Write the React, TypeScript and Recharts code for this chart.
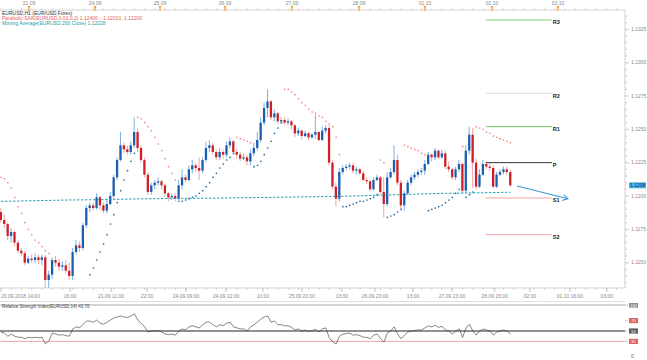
import React from 'react';
import { ComposedChart, Bar, Line, XAxis, YAxis, ReferenceLine } from 'recharts';

// ---------- data ----------
const opens = [
  1.1188,1.1182,1.1179,1.1170,1.1173,1.1165,1.1159,1.1157,1.1150,1.1153,
  1.1152,1.1154,1.1152,1.1154,1.1137,1.1141,1.1152,1.1150,1.1147,1.1148,
  1.1144,1.1140,1.1158,1.1163,1.1161,1.1178,1.1191,1.1193,1.1191,1.1199,
  1.1193,1.1189,1.1194,1.1200,1.1214,1.1227,1.1238,1.1235,1.1233,1.1238,
  1.1248,1.1236,1.1227,1.1216,1.1203,1.1208,1.1210,1.1211,1.1208,1.1202,
  1.1199,1.1200,1.1198,1.1208,1.1214,1.1212,1.1220,1.1223,1.1221,1.1219,
  1.1227,1.1236,1.1238,1.1233,1.1229,1.1233,1.1231,1.1238,1.1241,1.1233,
  1.1231,1.1228,1.1229,1.1226,1.1232,1.1236,1.1242,1.1255,1.1266,1.1271,
  1.1259,1.1262,1.1256,1.1257,1.1255,1.1256,1.1253,1.1247,1.1249,1.1245,
  1.1247,1.1244,1.1246,1.1248,1.1242,1.1249,1.1251,1.1225,1.1207,1.1198,
  1.1218,1.1221,1.1222,1.1223,1.1219,1.1220,1.1217,1.1212,1.1211,1.1205,
  1.1212,1.1214,1.1203,1.1194,1.1214,1.1218,1.1227,1.1210,1.1193,1.1202,
  1.1210,1.1214,1.1216,1.1218,1.1219,1.1224,1.1231,1.1229,1.1234,1.1229,
  1.1232,1.1222,1.1220,1.1214,1.1220,1.1224,1.1204,1.1234,1.1246,1.1225,
  1.1207,1.1216,1.1224,1.1222,1.1221,1.1207,1.1216,1.1218,1.1220,1.1218,
];
const closes = [
  1.1182,1.1179,1.1170,1.1173,1.1165,1.1159,1.1157,1.1150,1.1153,1.1152,
  1.1154,1.1152,1.1154,1.1137,1.1141,1.1152,1.1150,1.1147,1.1148,1.1144,
  1.1140,1.1158,1.1163,1.1161,1.1178,1.1191,1.1193,1.1191,1.1199,1.1193,
  1.1189,1.1194,1.1200,1.1214,1.1227,1.1238,1.1235,1.1233,1.1238,1.1248,
  1.1236,1.1227,1.1216,1.1203,1.1208,1.1210,1.1211,1.1208,1.1202,1.1199,
  1.1200,1.1198,1.1208,1.1214,1.1212,1.1220,1.1223,1.1221,1.1219,1.1227,
  1.1236,1.1238,1.1233,1.1229,1.1233,1.1231,1.1238,1.1241,1.1233,1.1231,
  1.1228,1.1229,1.1226,1.1232,1.1236,1.1242,1.1255,1.1266,1.1271,1.1259,
  1.1262,1.1256,1.1257,1.1255,1.1256,1.1253,1.1247,1.1249,1.1245,1.1247,
  1.1244,1.1246,1.1248,1.1242,1.1249,1.1251,1.1225,1.1207,1.1198,1.1218,
  1.1221,1.1222,1.1223,1.1219,1.1220,1.1217,1.1212,1.1211,1.1205,1.1212,
  1.1214,1.1203,1.1194,1.1214,1.1218,1.1227,1.1210,1.1193,1.1202,1.1210,
  1.1214,1.1216,1.1218,1.1219,1.1224,1.1231,1.1229,1.1234,1.1229,1.1232,
  1.1222,1.1220,1.1214,1.1220,1.1224,1.1204,1.1234,1.1246,1.1225,1.1207,
  1.1216,1.1224,1.1222,1.1221,1.1207,1.1216,1.1218,1.1220,1.1218,1.1208,
];
const highs = [
  1.1191,1.1186,1.1180,1.1176,1.1174,1.1167,1.1161,1.1159,1.1155,1.1156,
  1.1157,1.1156,1.1156,1.1156,1.1144,1.1154,1.1155,1.1153,1.1151,1.1152,
  1.1150,1.1161,1.1167,1.1166,1.1180,1.1193,1.1195,1.1195,1.1202,1.1200,
  1.1195,1.1197,1.1203,1.1216,1.1229,1.1248,1.1240,1.1238,1.1241,1.1259,
  1.1251,1.1238,1.1229,1.1218,1.1210,1.1212,1.1214,1.1212,1.1209,1.1203,
  1.1202,1.1202,1.1212,1.1220,1.1216,1.1223,1.1227,1.1225,1.1229,1.1229,
  1.1241,1.1242,1.1240,1.1235,1.1236,1.1235,1.1241,1.1244,1.1242,1.1235,
  1.1233,1.1232,1.1231,1.1235,1.1240,1.1248,1.1259,1.1270,1.1280,1.1272,
  1.1265,1.1263,1.1259,1.1259,1.1258,1.1257,1.1254,1.1251,1.1250,1.1249,
  1.1248,1.1247,1.1261,1.1249,1.1252,1.1253,1.1253,1.1227,1.1210,1.1221,
  1.1223,1.1224,1.1225,1.1225,1.1222,1.1221,1.1219,1.1214,1.1212,1.1214,
  1.1216,1.1215,1.1214,1.1218,1.1221,1.1238,1.1231,1.1212,1.1204,1.1212,
  1.1216,1.1218,1.1220,1.1221,1.1227,1.1233,1.1232,1.1236,1.1235,1.1235,
  1.1234,1.1226,1.1221,1.1222,1.1227,1.1225,1.1238,1.1252,1.1251,1.1228,
  1.1220,1.1227,1.1226,1.1225,1.1223,1.1218,1.1220,1.1222,1.1222,1.1220,
];
const lows = [
  1.1180,1.1176,1.1167,1.1165,1.1162,1.1157,1.1155,1.1148,1.1149,1.1150,
  1.1150,1.1149,1.1148,1.1131,1.1129,1.1138,1.1147,1.1144,1.1144,1.1142,
  1.1137,1.1137,1.1156,1.1158,1.1159,1.1176,1.1188,1.1189,1.1190,1.1190,
  1.1187,1.1187,1.1193,1.1198,1.1212,1.1226,1.1232,1.1231,1.1231,1.1236,
  1.1233,1.1225,1.1214,1.1201,1.1201,1.1205,1.1208,1.1205,1.1199,1.1196,
  1.1197,1.1196,1.1197,1.1205,1.1210,1.1211,1.1217,1.1218,1.1212,1.1217,
  1.1225,1.1233,1.1231,1.1227,1.1227,1.1228,1.1229,1.1236,1.1231,1.1228,
  1.1226,1.1227,1.1223,1.1223,1.1230,1.1234,1.1240,1.1253,1.1259,1.1257,
  1.1256,1.1254,1.1254,1.1253,1.1253,1.1250,1.1244,1.1245,1.1242,1.1244,
  1.1242,1.1243,1.1243,1.1241,1.1241,1.1247,1.1223,1.1205,1.1192,1.1196,
  1.1216,1.1219,1.1220,1.1217,1.1216,1.1216,1.1211,1.1209,1.1204,1.1204,
  1.1211,1.1201,1.1184,1.1192,1.1213,1.1216,1.1208,1.1190,1.1189,1.1201,
  1.1208,1.1212,1.1214,1.1216,1.1216,1.1223,1.1226,1.1227,1.1228,1.1228,
  1.1220,1.1218,1.1212,1.1212,1.1218,1.1202,1.1202,1.1231,1.1206,1.1205,
  1.1206,1.1215,1.1220,1.1219,1.1206,1.1206,1.1215,1.1216,1.1216,1.1207,
];

// Parabolic SAR runs: start index, side, values
const sarSegments = [
  { start: 0, side: 'red', values: [1.1214,1.1213,1.1210,1.1206,1.1199,1.1192,1.1187,1.1180,1.1175,1.1171,1.1167,1.1165,1.1162,1.1159,1.1157] },
  { start: 26, side: 'blue', values: [1.1141,1.1146,1.1152,1.1158,1.1164,1.1171,1.1179,1.1186,1.1195,1.1204,1.1212,1.1219,1.1226,1.1232] },
  { start: 40, side: 'red', values: [1.1259,1.1258,1.1255,1.1252,1.1249,1.1244,1.1239,1.1234,1.1228,1.1222,1.1217,1.1212] },
  { start: 52, side: 'blue', values: [1.1196,1.1196,1.1197,1.1198,1.1199,1.1200,1.1202,1.1204,1.1207,1.1210,1.1214,1.1217,1.1221,1.1224,1.1227,1.1229,1.1232] },
  { start: 69, side: 'red', values: [1.1244,1.1243,1.1242,1.1241,1.1240] },
  { start: 74, side: 'blue', values: [1.1222,1.1223,1.1226,1.1231,1.1236,1.1241,1.1247,1.1251,1.1255] },
  { start: 83, side: 'red', values: [1.1280,1.1280,1.1278,1.1276,1.1273,1.1270,1.1268,1.1265,1.1263,1.1262,1.1260,1.1259,1.1256,1.1254,1.1252,1.1244,1.1231] },
  { start: 100, side: 'blue', values: [1.1192,1.1192,1.1193,1.1194,1.1195,1.1196,1.1196,1.1197,1.1198,1.1199,1.1201] },
  { start: 111, side: 'red', values: [1.1227,1.1225] },
  { start: 113, side: 'blue', values: [1.1184,1.1185,1.1186,1.1188,1.1190] },
  { start: 118, side: 'red', values: [1.1238,1.1237,1.1236,1.1235,1.1234,1.1232,1.1231] },
  { start: 125, side: 'blue', values: [1.1189,1.1190,1.1191,1.1192,1.1193,1.1195,1.1197,1.1199,1.1202,1.1205] },
  { start: 135, side: 'red', values: [1.1237] },
  { start: 136, side: 'blue', values: [1.1199,1.1201,1.1203] },
  { start: 139, side: 'red', values: [1.1252,1.1251,1.1250,1.1248,1.1247,1.1245,1.1244,1.1243,1.1242,1.1241,1.1240] },
];

// Moving average readings (index, value)
const maPoints = [
  { i: 0, v: 1.11960 }, { i: 10, v: 1.11965 }, { i: 20, v: 1.11970 }, { i: 30, v: 1.11973 },
  { i: 40, v: 1.11978 }, { i: 50, v: 1.11982 }, { i: 60, v: 1.11983 }, { i: 70, v: 1.11987 },
  { i: 80, v: 1.11990 }, { i: 90, v: 1.11994 }, { i: 100, v: 1.11998 }, { i: 110, v: 1.12005 },
  { i: 120, v: 1.12013 }, { i: 130, v: 1.12020 }, { i: 140, v: 1.12024 }, { i: 149, v: 1.12028 },
];

const rsiValues = [
  48,46,40,44,40,38,38,35,38,37, 38,37,38,25,31,46,44,42,43,41,
  40,54,58,56,63,69,69,67,71,65, 63,67,71,75,77,79,77,76,79,83,
  71,65,58,48,50,50,51,48,44,43, 44,42,50,54,52,58,60,58,56,62,
  67,67,62,58,62,60,65,67,58,56, 54,54,50,58,62,67,73,77,79,67,
  69,62,62,60,60,57,52,54,50,52, 49,51,53,48,54,56,37,29,25,40,
  44,45,46,42,43,41,38,38,35,42, 44,35,29,46,50,58,44,35,42,48,
  50,51,52,52,56,60,58,61,57,59, 52,50,44,50,54,38,56,63,50,42,
  50,54,52,50,42,48,50,52,50,44,
];

const pivots = [
  { name: 'R3', value: 1.1332, color: '#7fd07a' },
  { name: 'R2', value: 1.1277, color: '#dcdcdc' },
  { name: 'R1', value: 1.1252, color: '#6cc865' },
  { name: 'P', value: 1.1225, color: '#333333' },
  { name: 'S1', value: 1.11985, color: '#f0a3a3' },
  { name: 'S2', value: 1.1171, color: '#f0a3a3' },
];
const pivotSpan = [141.8, 161.1];
const arrowFrom = { i: 150.9, v: 1.12075 };
const arrowTo = { i: 165.8, v: 1.1198 };

const priceTicks = [1.115, 1.1175, 1.12, 1.1225, 1.125, 1.1275, 1.13, 1.1325];
const topTickPos = [8.2, 27.5, 46.5, 65.5, 85.1, 104.7, 124, 143.6, 162.9];
const topLabels = ['21.09', '24.09', '25.09', '26.09', '27.09', '28.09', '01.10', '02.10', '03.10'];
const bottomTickPos = [0, 20.2, 32.2, 42.7, 54.1, 65.8, 76.6, 88, 99.7, 109.4, 120.5, 131.9, 144.4, 154.7, 166.4, 177.2];
const bottomLabels = [
  '20.09.2018 14:00', '16:00', '21.09 11:00', '22:00', '24.09 09:00', '24.09 22:00', '10:00', '25.09 23:00',
  '13:00', '26.09 23:00', '13:00', '27.09 23:00', '28.09 15:00', '02:00', '01.10 16:00', '03:00',
];
const rsiLevels = [
  { v: 100, label: '100', fill: '#8c8c8c' },
  { v: 70, label: '70', fill: '#e06464' },
  { v: 50, label: '50', fill: '#5e5e5e' },
  { v: 30, label: '30', fill: '#e06464' },
  { v: 0, label: '0', fill: 'none' },
];

// ---------- layout constants ----------
const X_DOMAIN: [number, number] = [-0.3, 182.5];
const Y_DOMAIN: [number, number] = [1.1131, 1.13395];
const PLOT_RIGHT = 625;
const PLOT_TOP = 10;
const PLOT_BOTTOM = 288;
const FONT = 'Liberation Sans, Arial, sans-serif';

const UP = '#1d5faf';
const UP_WICK = '#6fa6dc';
const DN = '#cf1f28';
const DN_WICK = '#ee9a9a';

// ---------- derived rows ----------
const sarRed: (number | null)[] = opens.map(() => null);
const sarBlue: (number | null)[] = opens.map(() => null);
sarSegments.forEach((s) => s.values.forEach((v, k) => {
  (s.side === 'red' ? sarRed : sarBlue)[s.start + k] = v;
}));
const maMap = new Map(maPoints.map((p) => [p.i, p.v]));
const data = opens.map((o, i) => ({
  i, o, c: closes[i], h: highs[i], l: lows[i],
  range: [lows[i], highs[i]],
  sarR: sarRed[i], sarB: sarBlue[i],
  ma: maMap.has(i) ? maMap.get(i) : null,
}));
const rsiData = rsiValues.map((v, i) => ({ i, rsi: v }));

const minorPrice = Array.from({ length: 41 }, (_, k) => +(1.1135 + k * 0.0005).toFixed(4));
const minorX = Array.from({ length: 61 }, (_, k) => k * 3);
const bottomTicks = [...new Set([...minorX, ...bottomTickPos])].sort((a, b) => a - b);
const topTicks = [...new Set([...minorX, ...topTickPos])].sort((a, b) => a - b);

const near = (arr: number[], v: number) => arr.findIndex((t) => Math.abs(t - v) < 1e-6);

// ---------- renderers ----------
const Candle = (props: any) => {
  const { x, y, width, height, payload } = props;
  if (!payload || x == null || y == null) return <g />;
  const top = Math.min(y, y + height);
  const hh = Math.abs(height);
  const { o, c, h, l } = payload;
  const k = h - l > 0 ? hh / (h - l) : 0;
  const cx = x + width / 2;
  const bTop = top + (h - Math.max(o, c)) * k;
  const bBot = top + (h - Math.min(o, c)) * k;
  const up = c >= o;
  const bw = 2.3;
  return (
    <g>
      <line x1={cx} x2={cx} y1={top} y2={top + hh} stroke={up ? UP_WICK : DN_WICK} strokeWidth={0.9} />
      <rect x={cx - bw / 2} y={bTop} width={bw} height={Math.max(0.8, bBot - bTop)} fill={up ? UP : DN} />
    </g>
  );
};

const PriceTick = (props: any) => {
  const { y, payload } = props;
  const v = payload.value;
  const major = near(priceTicks, v) >= 0;
  return (
    <g>
      <line x1={PLOT_RIGHT} x2={PLOT_RIGHT + (major ? 4 : 2)} y1={y} y2={y} stroke="#aaa" strokeWidth={0.6} />
      {major && (
        <text x={PLOT_RIGHT + 6} y={y + 1.8} fontSize={5} fill="#8a8a8a" fontFamily={FONT}>{v.toFixed(4)}</text>
      )}
    </g>
  );
};

const BottomTick = (props: any) => {
  const { x, payload } = props;
  const idx = near(bottomTickPos, payload.value);
  if (idx < 0) {
    return <line x1={x} x2={x} y1={PLOT_BOTTOM} y2={PLOT_BOTTOM + 2} stroke="#bbb" strokeWidth={0.6} />;
  }
  return (
    <g>
      <line x1={x} x2={x} y1={PLOT_BOTTOM} y2={PLOT_BOTTOM + 4} stroke="#999" strokeWidth={0.6} />
      <text x={idx === 0 ? 1 : x} y={PLOT_BOTTOM + 10} textAnchor={idx === 0 ? 'start' : 'middle'} fontSize={5} fill="#888" fontFamily={FONT}>
        {bottomLabels[idx]}
      </text>
    </g>
  );
};

const TopTick = (props: any) => {
  const { x, payload } = props;
  const idx = near(topTickPos, payload.value);
  if (idx < 0) {
    return <line x1={x} x2={x} y1={PLOT_TOP} y2={PLOT_TOP - 2} stroke="#c4c4c4" strokeWidth={0.6} />;
  }
  return (
    <g>
      <text x={x} y={4.8} textAnchor="middle" fontSize={5} fill="#888" fontFamily={FONT}>{topLabels[idx]}</text>
      <line x1={x} x2={x} y1={6} y2={11} stroke="#eaa23a" strokeWidth={1.2} />
      <path d={`M${x - 1.6},6 L${x + 1.6},6 L${x},8.2 Z`} fill="#eaa23a" />
    </g>
  );
};

const pivotShape = (p: { name: string; color: string }) => (sp: any) => (
  <g>
    <line x1={sp.x1} y1={sp.y1} x2={sp.x2} y2={sp.y2} stroke={p.color} strokeWidth={1} />
    <text x={sp.x2 + 1} y={sp.y2 + 4.3} fontSize={5.5} fontWeight="bold" fill="#222" fontFamily={FONT}>{p.name}</text>
  </g>
);

const arrowShape = (sp: any) => {
  const dx = sp.x2 - sp.x1;
  const dy = sp.y2 - sp.y1;
  const len = Math.sqrt(dx * dx + dy * dy) || 1;
  const ux = dx / len;
  const uy = dy / len;
  const hl = 5;
  const hw = 3;
  const bx = sp.x2 - ux * hl;
  const by = sp.y2 - uy * hl;
  return (
    <g>
      <line x1={sp.x1} y1={sp.y1} x2={sp.x2} y2={sp.y2} stroke="#3a9ad6" strokeWidth={1.1} />
      <polyline
        points={`${bx - uy * hw},${by + ux * hw} ${sp.x2},${sp.y2} ${bx + uy * hw},${by - ux * hw}`}
        fill="none" stroke="#3a9ad6" strokeWidth={1.1}
      />
    </g>
  );
};

const Badge = (props: any) => {
  const vb = props.viewBox || {};
  const y = vb.y;
  if (y == null) return null;
  const x = PLOT_RIGHT + 4;
  return (
    <g>
      <rect x={x} y={y - 3} width={17} height={6} fill="#4cb3ea" />
      <text x={x + 1} y={y + 1.9} fontSize={5} fill="#0b2a55" fontFamily={FONT}>{closes[closes.length - 1].toFixed(4)}</text>
    </g>
  );
};

const RsiTick = (props: any) => {
  const { y, payload } = props;
  const lv = rsiLevels.find((r) => r.v === payload.value);
  if (!lv) return <g />;
  const x = PLOT_RIGHT + 4;
  if (lv.fill === 'none') {
    return <text x={x + 2} y={y + 1.5} fontSize={5} fill="#666" fontFamily={FONT}>{lv.label}</text>;
  }
  return (
    <g>
      <line x1={PLOT_RIGHT} x2={PLOT_RIGHT + 3} y1={y} y2={y} stroke="#aaa" strokeWidth={0.6} />
      <rect x={x} y={y - 2.6} width={9} height={5.2} fill={lv.fill} />
      <text x={x + 4.5} y={y + 1.6} fontSize={4} textAnchor="middle" fill="#fff" fontFamily={FONT}>{lv.label}</text>
    </g>
  );
};

export default function App() {
  return (
    <div style={{ position: 'relative', width: 647, height: 360, background: '#fff', overflow: 'hidden', fontFamily: FONT }}>
      <style>{'body{margin:0;background:#fff}'}</style>
      <div style={{ position: 'absolute', left: 0, top: 0 }}>
        <ComposedChart width={647} height={300} data={data} margin={{ top: 0, right: 0, bottom: 0, left: 0 }}>
          <XAxis
            dataKey="i" type="number" domain={X_DOMAIN} allowDataOverflow height={12}
            ticks={bottomTicks} interval={0} tick={<BottomTick />} tickLine={false}
            axisLine={{ stroke: '#c8c8c8', strokeWidth: 0.8 }}
          />
          <XAxis
            xAxisId="top" orientation="top" dataKey="i" type="number" domain={X_DOMAIN} allowDataOverflow height={10}
            ticks={topTicks} interval={0} tick={<TopTick />} tickLine={false}
            axisLine={{ stroke: '#c8c8c8', strokeWidth: 0.8 }}
          />
          <YAxis
            orientation="right" width={22} type="number" domain={Y_DOMAIN} allowDataOverflow
            ticks={minorPrice} interval={0} tick={<PriceTick />} tickLine={false}
            axisLine={{ stroke: '#c8c8c8', strokeWidth: 0.8 }}
          />
          <Line xAxisId="top" dataKey="ma" stroke="none" dot={false} isAnimationActive={false} legendType="none" />
          <Line dataKey="ma" stroke="#1fa8b8" strokeWidth={1} strokeDasharray="2.5 1.5" dot={false} connectNulls isAnimationActive={false} activeDot={false} />
          <Bar dataKey="range" shape={Candle} barSize={3} isAnimationActive={false} />
          <Line dataKey="sarR" stroke="none" dot={{ r: 0.85, fill: '#f28a8a', stroke: 'none' }} activeDot={false} isAnimationActive={false} />
          <Line dataKey="sarB" stroke="none" dot={{ r: 0.85, fill: '#2470aa', stroke: 'none' }} activeDot={false} isAnimationActive={false} />
          {pivots.map((p) => (
            <ReferenceLine
              key={p.name}
              segment={[{ x: pivotSpan[0], y: p.value }, { x: pivotSpan[1], y: p.value }]}
              ifOverflow="visible"
              shape={pivotShape(p)}
            />
          ))}
          <ReferenceLine
            segment={[{ x: arrowFrom.i, y: arrowFrom.v }, { x: arrowTo.i, y: arrowTo.v }]}
            ifOverflow="visible"
            shape={arrowShape}
          />
          <ReferenceLine y={closes[closes.length - 1]} stroke="none" ifOverflow="visible" label={<Badge />} />
        </ComposedChart>
      </div>
      <div style={{ position: 'absolute', left: 0, top: 303 }}>
        <ComposedChart width={647} height={57} data={rsiData} margin={{ top: 0, right: 0, bottom: 0, left: 0 }}>
          <XAxis dataKey="i" type="number" domain={X_DOMAIN} allowDataOverflow hide />
          <YAxis
            orientation="right" width={22} type="number" domain={[-5.77, 103.85]} allowDataOverflow
            ticks={[0, 30, 50, 70, 100]} interval={0} tick={<RsiTick />} tickLine={false} axisLine={false}
          />
          <ReferenceLine y={100} stroke="#a8a8a8" strokeWidth={1} />
          <ReferenceLine y={50} stroke="#222" strokeWidth={1} />
          <ReferenceLine y={30} stroke="#f2a5a5" strokeWidth={1} />
          <Line dataKey="rsi" stroke="#333" strokeWidth={0.6} dot={false} activeDot={false} isAnimationActive={false} />
        </ComposedChart>
      </div>
      <svg width={647} height={360} style={{ position: 'absolute', left: 0, top: 0, pointerEvents: 'none' }}>
        <text x={2} y={15} fontSize={5} fill="#333" fontFamily={FONT}>EURUSD,H1 (EUR/USD,Forex)</text>
        <text x={2} y={20} fontSize={5} fill="#e46060" fontFamily={FONT}>Parabolic SAR(EURUSD,0.02,0.2) 1.12400 ↓ 1.12010, 1.12200</text>
        <text x={2} y={25} fontSize={5} fill="#1a9fa6" fontFamily={FONT}>Moving Average(EURUSD,200,Close) 1.12028</text>
        <line x1={0} x2={PLOT_RIGHT} y1={301.5} y2={301.5} stroke="#d8d8d8" strokeWidth={0.8} />
        <text x={2} y={307.5} fontSize={4.5} fill="#444" fontFamily={FONT}>Relative Strength Index(EURUSD,14) 43.70</text>
      </svg>
    </div>
  );
}
